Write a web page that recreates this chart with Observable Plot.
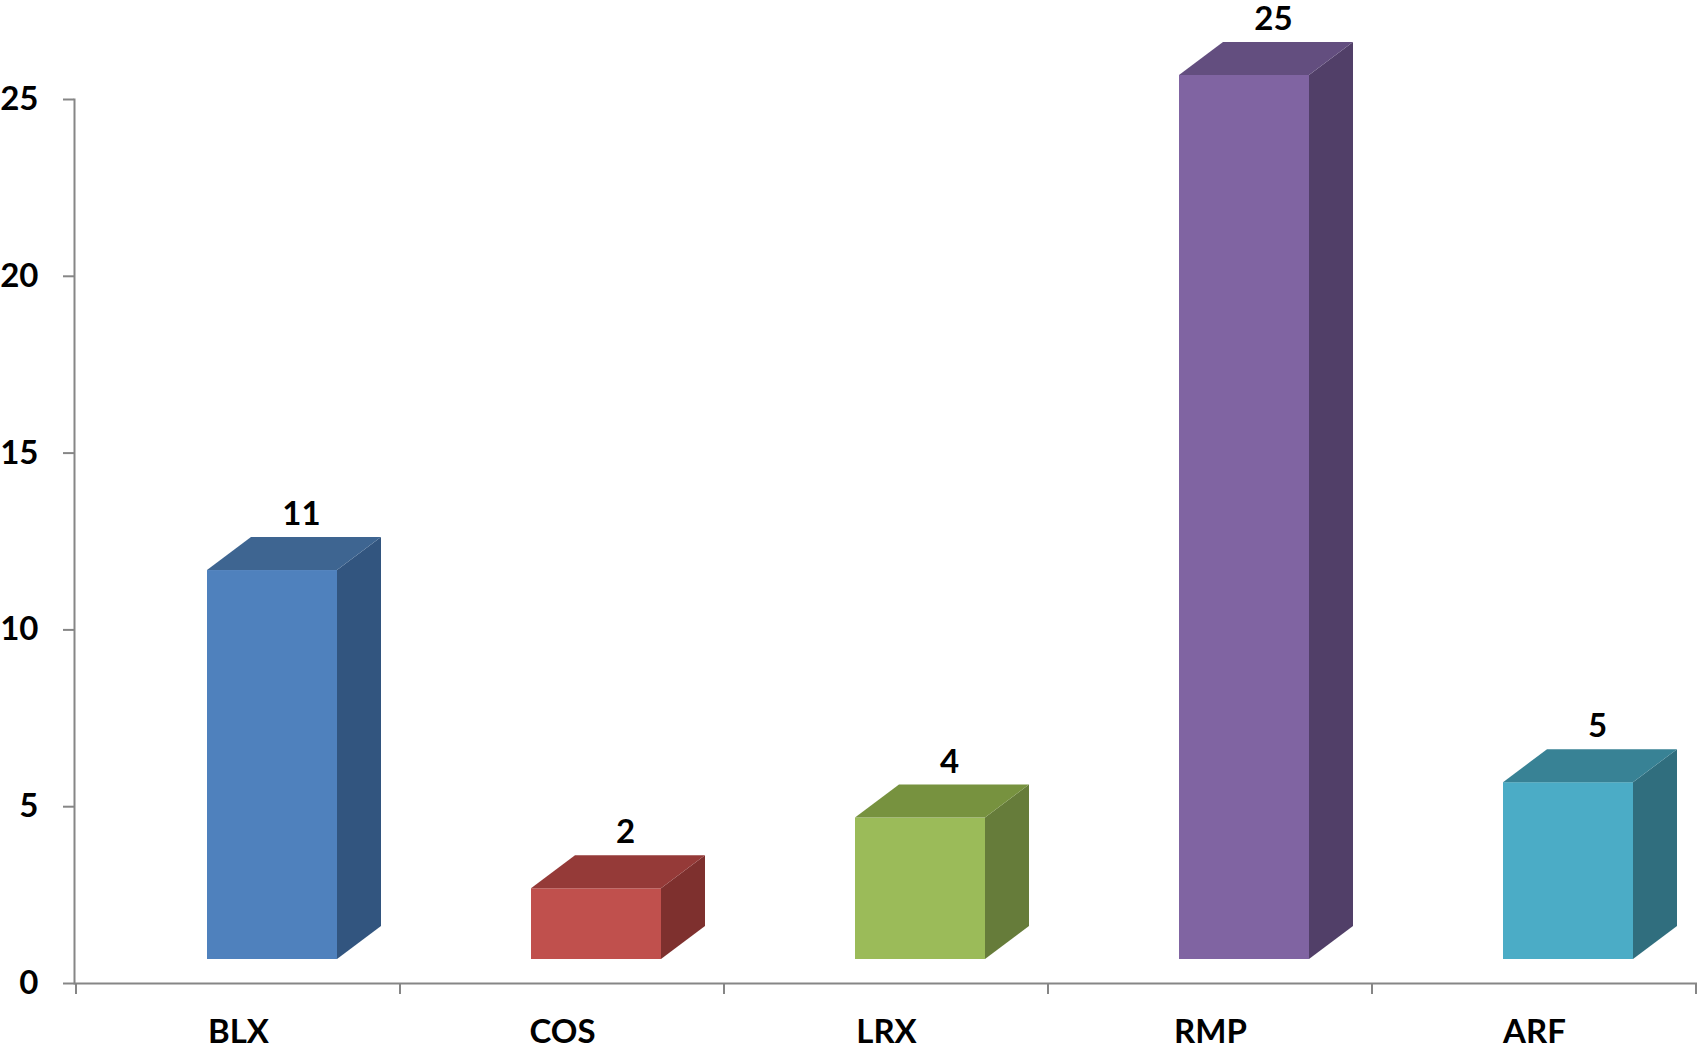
<!DOCTYPE html>
<html><head><meta charset="utf-8">
<script src="https://cdn.jsdelivr.net/npm/d3@7"></script>
<script src="https://cdn.jsdelivr.net/npm/@observablehq/plot@0.6"></script>
<style>body{margin:0;background:#fff;overflow:hidden}</style>
</head><body><div id="chart"></div>
<script>
const categories = ["BLX", "COS", "LRX", "RMP", "ARF"];
const values = [11, 2, 4, 25, 5];
const frontColors = ["#4F81BD", "#C0504D", "#9BBB59", "#8064A2", "#4BACC6"];
const topColors = ["#3E6591", "#953A38", "#77923F", "#634E7F", "#388295"];
const sideColors = ["#32557F", "#7E302E", "#667C3A", "#513F68", "#306E7E"];
const yTicks = [0, 5, 10, 15, 20, 25];

const data = categories.map((c, i) => ({cat: c, value: values[i], front: frontColors[i], top: topColors[i], side: sideColors[i]}));

const W = 1697, H = 1049;
const FLOOR = 24, DX = 44, DY = 33, INL = 131, INR = 63;
const AXIS = "#868686";

function faces(index, scales) {
  const x = scales.x, y = scales.y;
  const g = d3.create("svg:g");
  const bw = x(categories[1]) - x(categories[0]);
  const y0 = y(0);
  for (const d of data) {
    const L = x(d.cat) + INL, R = x(d.cat) + bw - INR;
    const T = y(d.value) - FLOOR, B = y0 - FLOOR;
    g.append("path").attr("fill", d.side)
      .attr("d", `M${R},${T}L${R + DX},${T - DY}L${R + DX},${B - DY}L${R},${B}Z`);
    g.append("path").attr("fill", d.top)
      .attr("d", `M${L},${T}L${L + DX},${T - DY}L${R + DX},${T - DY}L${R},${T}Z`);
  }
  // x-axis ticks at category boundaries
  for (let i = 0; i <= categories.length; i++) {
    const xp = Math.min(x(categories[0]) + i * bw, W - 1);
    g.append("line").attr("x1", xp).attr("x2", xp).attr("y1", y0).attr("y2", y0 + 11)
      .attr("stroke", AXIS).attr("stroke-width", 2);
  }
  return g.node();
}

const chart = Plot.plot({
  width: W,
  height: H,
  marginLeft: 74,
  marginRight: 0,
  marginTop: 99,
  marginBottom: 66,
  style: {fontFamily: "Lato, 'Open Sans', sans-serif", background: "#fff"},
  x: {domain: categories, padding: 0, label: null},
  y: {domain: [0, 25], label: null},
  marks: [
    Plot.barY(data, {x: "cat", y: "value", fill: "front", dy: -FLOOR, insetLeft: INL, insetRight: INR}),
    faces,
    Plot.frame({anchor: "left", stroke: AXIS, strokeWidth: 2}),
    Plot.ruleY([0], {stroke: AXIS, strokeWidth: 2}),
    Plot.axisY({ticks: yTicks, tickSize: 11, tickFormat: () => "", color: AXIS, strokeWidth: 2, label: null}),
    Plot.axisY({ticks: yTicks, tickSize: 0, tickPadding: 36, color: "#000", fontSize: 33, fontWeight: "bold", label: null}),
    Plot.axisX({tickSize: 0, tickPadding: 36, color: "#000", fontSize: 33, fontWeight: "bold", label: null}),
    Plot.text(data, {x: "cat", y: "value", text: d => String(d.value), dx: 63, dy: -80, fontSize: 33, fontWeight: "bold", fill: "#000"})
  ]
});
document.getElementById("chart").appendChild(chart);
</script>
</body></html>
